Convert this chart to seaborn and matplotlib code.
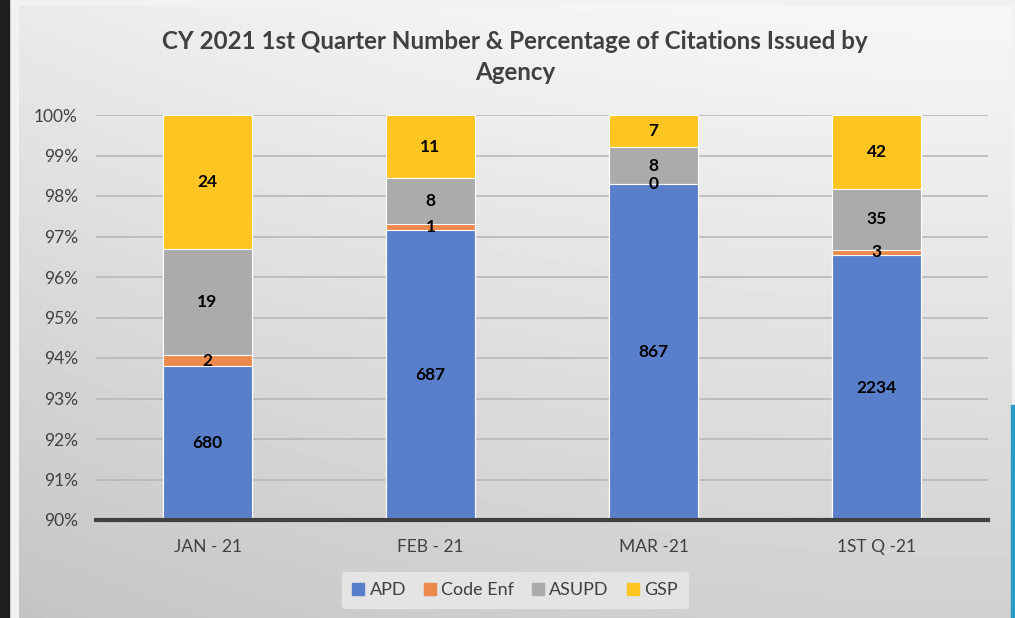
import numpy as np
import pandas as pd
import matplotlib
matplotlib.use("Agg")
import matplotlib.pyplot as plt
from matplotlib.patches import Rectangle
import seaborn as sns

# ---- data ----
categories = ["JAN - 21", "FEB - 21", "MAR -21", "1ST Q -21"]
agencies = ["APD", "Code Enf", "ASUPD", "GSP"]
apd = [680, 687, 867, 2234]
code_enf = [2, 1, 0, 3]
asupd = [19, 8, 8, 35]
gsp = [24, 11, 7, 42]
colors = ["#5a7fca", "#eb8a4c", "#ababab", "#fcc522"]
title = "CY 2021 1st Quarter Number & Percentage of Citations Issued by\nAgency"
yticks = [90, 91, 92, 93, 94, 95, 96, 97, 98, 99, 100]

counts = pd.DataFrame({"APD": apd, "Code Enf": code_enf, "ASUPD": asupd, "GSP": gsp},
                      index=categories)
pct = counts.div(counts.sum(axis=1), axis=0) * 100
top = pct.cumsum(axis=1)
bottom = top - pct

sns.set_theme(style="white")
plt.rcParams["font.family"] = ["Lato", "DejaVu Sans"]

W, H = 1015, 618
fig = plt.figure(figsize=(W / 100, H / 100), dpi=100)
fig.patch.set_facecolor("#f2f2f2")

# background frame / gradient
bg = fig.add_axes([19 / W, 0, (1011 - 19) / W, (H - 6) / H])
bg.set_axis_off()
yy, xx = np.mgrid[0:1:200j, 0:1:200j]
grad = 0.78 + 0.15 * yy + 0.05 * xx - 0.05 * (xx - 0.5) ** 2
grad = np.clip(grad, 0, 1)
bg.imshow(grad, cmap="gray", vmin=0, vmax=1, origin="lower", aspect="auto",
          extent=[0, 1, 0, 1])
fig.patches.append(Rectangle((0, 0), 9 / W, 1, transform=fig.transFigure,
                             color="#1e1e1e", zorder=5))
fig.patches.append(Rectangle((1011 / W, 0), 4 / W, (618 - 405) / H,
                             transform=fig.transFigure, color="#2a9bc8", zorder=5))

ax = fig.add_axes([96 / W, (H - 520) / H, (988 - 96) / W, (520 - 115) / H])
ax.patch.set_alpha(0)

long = top.reset_index().melt(id_vars="index", var_name="agency", value_name="cum")
long = long.rename(columns={"index": "cat"})
for ag, col in reversed(list(zip(agencies, colors))):
    sub = long[long["agency"] == ag]
    sns.barplot(data=sub, x="cat", y="cum", order=categories, color=col,
                width=0.395, edgecolor="white", linewidth=0.8, ax=ax, zorder=3,
                saturation=1)

ax.set_ylim(90, 100)
ax.set_xlim(-0.5, 3.5)
ax.set_yticks(yticks)
ax.set_yticklabels([f"{t}%" for t in yticks], fontsize=12.5, color="#404040")
ax.tick_params(axis="x", labelsize=12.5, colors="#404040", length=0, pad=14)
ax.tick_params(axis="y", length=0, pad=13)
ax.set_xlabel("")
ax.set_ylabel("")
ax.grid(axis="y", color="#b8b8b8", linewidth=1.2, zorder=0)
for s in ["top", "right", "left"]:
    ax.spines[s].set_visible(False)
ax.spines["bottom"].set_color("#404040")
ax.spines["bottom"].set_linewidth(3)
ax.spines["bottom"].set_zorder(4)

# data labels (centred in visible part of each segment)
for i, cat in enumerate(categories):
    for ag in agencies:
        lo = max(bottom.loc[cat, ag], 90)
        hi = top.loc[cat, ag]
        yc = (lo + hi) / 2
        ax.text(i, yc, f"{counts.loc[cat, ag]}", ha="center", va="center",
                fontsize=12.5, fontweight="bold", color="black", zorder=6)

fig.text(515 / W, 1 - 57 / H, title, ha="center", va="center", fontsize=17.4,
         fontweight="bold", color="#404040", linespacing=1.45)

handles = [Rectangle((0, 0), 1, 1, color=c) for c in colors]
leg = fig.legend(handles, agencies, loc="center", bbox_to_anchor=(515 / W, 1 - 590 / H),
                 ncol=4, frameon=True, fontsize=13, handlelength=0.65, handleheight=0.65,
                 handletextpad=0.3, columnspacing=1.0, borderpad=0.55)
leg.get_frame().set_facecolor("#e4e4e4")
leg.get_frame().set_edgecolor("#e4e4e4")
leg.get_frame().set_alpha(1)
for t in leg.get_texts():
    t.set_color("#404040")

fig.savefig("out.png", dpi=100, facecolor=fig.get_facecolor())
